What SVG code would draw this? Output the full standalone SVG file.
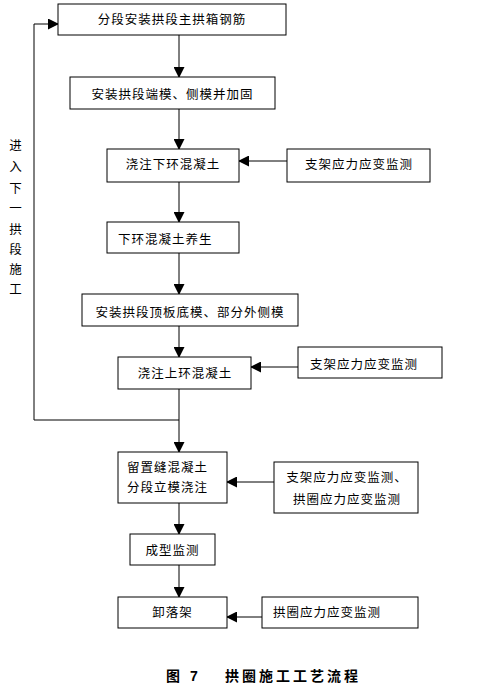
<svg xmlns="http://www.w3.org/2000/svg" width="477" height="689" viewBox="0 0 477 689">
<style>
rect.b{fill:#fff;stroke:#000;stroke-width:1}
text{font-family:"Liberation Sans","Noto Sans CJK SC",sans-serif;font-size:12.5px;fill:#000;letter-spacing:1px}
.c{text-anchor:middle}
.l{fill:none;stroke:#000;stroke-width:1}
.cap{font-weight:bold;font-size:14px;letter-spacing:3px}
</style>
<defs>
<marker id="ah" markerUnits="userSpaceOnUse" markerWidth="11" markerHeight="11" refX="10" refY="5.5" orient="auto">
<path d="M0,0 L11,5.5 L0,11 z" fill="#000"/>
</marker>
</defs>
<rect width="477" height="689" fill="#fff"/>
<g id="connectors">
<line class="l" x1="179" y1="35" x2="179" y2="77" marker-end="url(#ah)"/>
<line class="l" x1="179" y1="109" x2="179" y2="149" marker-end="url(#ah)"/>
<line class="l" x1="287" y1="161" x2="239" y2="161" marker-end="url(#ah)"/>
<line class="l" x1="179" y1="182" x2="179" y2="222" marker-end="url(#ah)"/>
<line class="l" x1="179" y1="253" x2="179" y2="294" marker-end="url(#ah)"/>
<line class="l" x1="179" y1="326" x2="179" y2="357" marker-end="url(#ah)"/>
<line class="l" x1="298" y1="367" x2="251" y2="367" marker-end="url(#ah)"/>
<line class="l" x1="179" y1="389" x2="179" y2="452" marker-end="url(#ah)"/>
<polyline class="l" points="179,420 34,420 34,24 58,24" marker-end="url(#ah)"/>
<line class="l" x1="274" y1="482" x2="227" y2="482" marker-end="url(#ah)"/>
<line class="l" x1="179" y1="503" x2="179" y2="534" marker-end="url(#ah)"/>
<line class="l" x1="179" y1="565" x2="179" y2="597" marker-end="url(#ah)"/>
<line class="l" x1="262" y1="617" x2="227" y2="617" marker-end="url(#ah)"/>
</g>
<g id="n1"><rect class="b" x="58" y="4" width="228" height="31"/><text class="c" x="172" y="24">分段安装拱段主拱箱钢筋</text></g>
<g id="n2"><rect class="b" x="70" y="77" width="205" height="32"/><text class="c" x="172.5" y="98.5">安装拱段端模、侧模并加固</text></g>
<g id="n3"><rect class="b" x="107" y="149" width="132" height="33"/><text class="c" x="173" y="168.5">浇注下环混凝土</text></g>
<g id="m1"><rect class="b" x="287" y="149" width="143" height="33"/><text class="c" x="359" y="168.5">支架应力应变监测</text></g>
<g id="n4"><rect class="b" x="107" y="222" width="132" height="31"/><text x="118" y="243.5">下环混凝土养生</text></g>
<g id="n5"><rect class="b" x="82" y="294" width="216" height="32"/><text class="c" x="190" y="317">安装拱段顶板底模、部分外侧模</text></g>
<g id="n6"><rect class="b" x="118" y="357" width="133" height="32"/><text class="c" x="185" y="377.5">浇注上环混凝土</text></g>
<g id="m2"><rect class="b" x="298" y="347" width="144" height="31"/><text class="c" x="364" y="368.5">支架应力应变监测</text></g>
<g id="n7"><rect class="b" x="118" y="452" width="109" height="51"/><text x="127" y="472">留置缝混凝土</text><text x="127" y="492">分段立模浇注</text></g>
<g id="m3"><rect class="b" x="274" y="462" width="144" height="51"/><text class="c" x="347" y="482">支架应力应变监测、</text><text class="c" x="347" y="503.5">拱圈应力应变监测</text></g>
<g id="n8"><rect class="b" x="130" y="534" width="85" height="31"/><text class="c" x="172.5" y="554.5">成型监测</text></g>
<g id="n9"><rect class="b" x="118" y="597" width="109" height="31"/><text class="c" x="172.5" y="617">卸落架</text></g>
<g id="m4"><rect class="b" x="262" y="597" width="156" height="31"/><text x="273" y="617">拱圈应力应变监测</text></g>
<g id="side">
<text class="c" x="16" y="149.5">进</text>
<text class="c" x="16" y="171">入</text>
<text class="c" x="16" y="193">下</text>
<text class="c" x="16" y="213">一</text>
<text class="c" x="16" y="234">拱</text>
<text class="c" x="16" y="254">段</text>
<text class="c" x="16" y="274">施</text>
<text class="c" x="16" y="294">工</text>
</g>
<g id="caption">
<text class="cap" x="166" y="681">图 7</text>
<text class="cap" x="225" y="681">拱圈施工工艺流程</text>
</g>
</svg>
